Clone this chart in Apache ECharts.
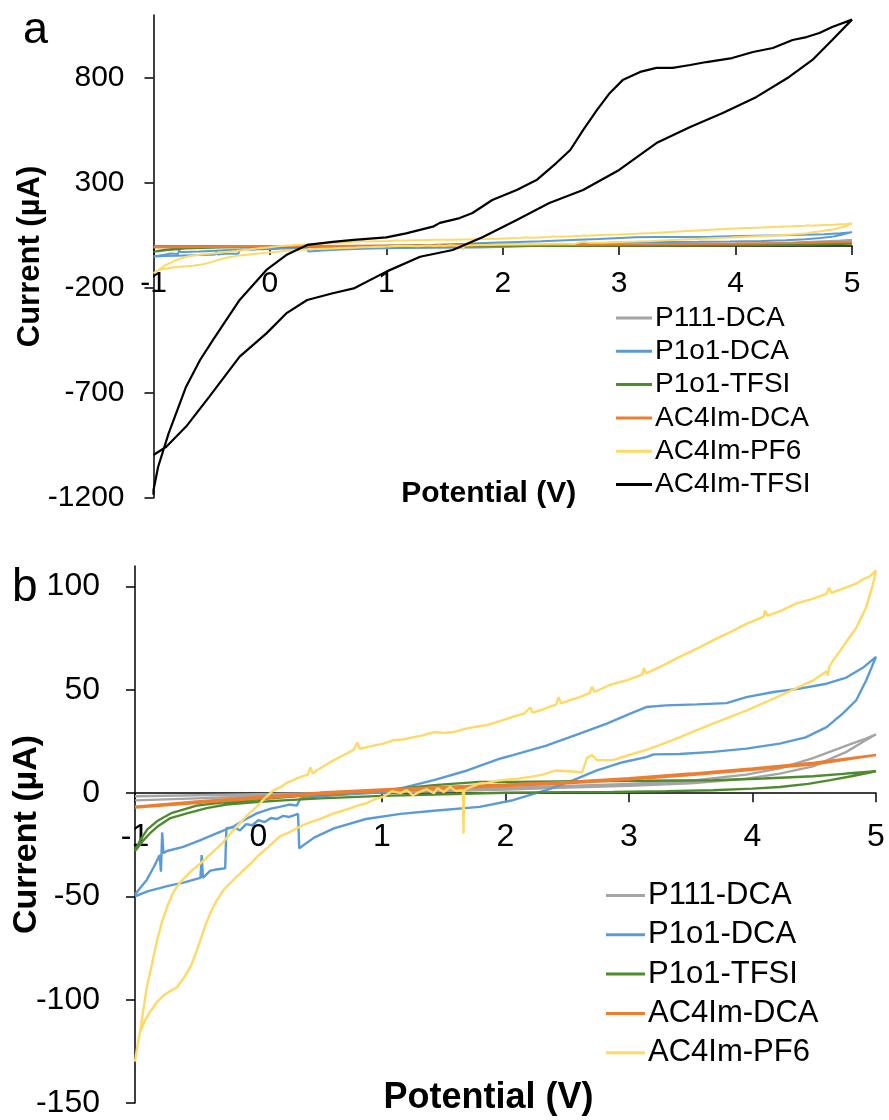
<!DOCTYPE html>
<html>
<head>
<meta charset="utf-8">
<script src="https://cdn.jsdelivr.net/npm/echarts@6/dist/echarts.min.js"></script>
<style>
  html, body { margin: 0; padding: 0; background: #ffffff; }
  #chart { width: 889px; height: 1120px; }
</style>
</head>
<body>
<div id="chart"></div>
<script>
// Cyclic voltammograms: potential (V) vs current (µA), each loop as [x, y] pairs in scan order.
const seriesNames = ['P111-DCA', 'P1o1-DCA', 'P1o1-TFSI', 'AC4Im-DCA', 'AC4Im-PF6', 'AC4Im-TFSI'];
const seriesColors = ['#A5A5A5', '#5B9BD5', '#4E8A2E', '#ED7D31', '#FFD966', '#000000'];

const xTicks = [-1, 0, 1, 2, 3, 4, 5];
const yTicksA = [-1200, -700, -200, 300, 800];
const yTicksB = [-150, -100, -50, 0, 50, 100];

const p111DCA = [
  [-1, -3.5], [-0.5, -2.5], [0, -1.5], [0.5, -0.5], [1, 0.3], [1.5, 1], [2, 1.8], [2.5, 2.7],
  [3, 3.6], [3.5, 4.8], [3.95, 7], [4.22, 9.5], [4.49, 13], [4.76, 20], [4.9, 25], [5, 28.5],
  [4.9, 26], [4.76, 23], [4.49, 17], [4.22, 12], [3.95, 9], [3.5, 6], [3, 4.5], [2.5, 3.5],
  [2, 2.5], [1.5, 1.5], [1, 0.8], [0.5, 0], [0, -0.5], [-0.5, -1], [-1, -1.5]
];

const p1o1DCA = [
  [-1, -50], [-0.9, -47.5], [-0.8, -46], [-0.74, -45], [-0.6, -43.2], [-0.5, -41.5], [-0.47, -41],
  [-0.46, -30], [-0.45, -41], [-0.39, -37.5], [-0.33, -36.8], [-0.27, -36.4], [-0.26, -17],
  [-0.2, -16.5], [-0.15, -18], [-0.1, -15], [-0.05, -15.5], [0, -13], [0.05, -14], [0.1, -12],
  [0.15, -12.5], [0.2, -11], [0.25, -11.5], [0.32, -10], [0.33, -26.7], [0.45, -21.5],
  [0.61, -17], [0.87, -12.5], [1.15, -10], [1.42, -8.5], [1.79, -6.6], [2.06, -3.4],
  [2.33, 1.5], [2.55, 6.3], [2.74, 11], [2.95, 15], [3.14, 17.5], [3.2, 18.8], [3.41, 19],
  [3.68, 20], [3.95, 21.6], [4.22, 24], [4.43, 27], [4.6, 32], [4.73, 38.5], [4.84, 45],
  [4.92, 54.6], [5, 66],
  [4.9, 61], [4.76, 56], [4.6, 53], [4.38, 50.6], [4.17, 49], [3.95, 46.5], [3.79, 43.6],
  [3.55, 43], [3.3, 42.5], [3.14, 41.7], [3.01, 38.5], [2.82, 33.7], [2.6, 28.8], [2.33, 23],
  [2.06, 18.4], [1.96, 16.8], [1.69, 11], [1.42, 6.3], [1.15, 2.3], [1.01, 0.6], [0.8, -0.3],
  [0.6, -1], [0.45, -1.8], [0.34, -2.5], [0.31, -6], [0.25, -5.5], [0.17, -6.6], [0.1, -7.5],
  [-0.015, -9.8], [-0.1, -12.5], [-0.2, -16], [-0.34, -19.5], [-0.47, -22.7], [-0.61, -26],
  [-0.74, -28], [-0.77, -29], [-0.78, -19], [-0.79, -38], [-0.8, -30], [-0.85, -36],
  [-0.905, -42], [-0.96, -46], [-1, -49]
];

const p1o1TFSI = [
  [-1, -28], [-0.96, -25], [-0.93, -22.7], [-0.88, -19.5], [-0.82, -16.3], [-0.72, -12.2],
  [-0.58, -9.8], [-0.42, -7.2], [-0.26, -5.5], [-0.07, -4.5], [0.2, -3.5], [0.5, -2.5],
  [1, -1.3], [1.5, -0.5], [2, 0.2], [2.5, 0.5], [2.87, 0.6], [3.3, 1], [3.68, 1.4], [4, 2.2],
  [4.22, 3], [4.45, 4.5], [4.63, 6.3], [4.8, 8.2], [5, 10.6],
  [4.76, 9.5], [4.49, 8.2], [4.09, 7.1], [3.68, 6.3], [3.14, 6], [2.6, 5.8], [2.06, 5.5],
  [1.79, 5.5], [1.42, 3.9], [1.2, 2.6], [1.01, 1.4], [0.7, 0], [0.4, -1], [0, -3],
  [-0.3, -4.5], [-0.5, -6], [-0.7, -9.5], [-0.82, -13.5], [-0.9, -17.5], [-0.96, -23], [-1, -28]
];

const ac4imDCA = [
  [-1, -6.5], [-0.5, -4], [0, -1.8], [0.5, 0.3], [1, 1.8], [1.5, 3], [2, 4.2], [2.5, 5.5],
  [3, 7.3], [3.5, 9.5], [4, 12], [4.5, 14.8], [5, 18.5],
  [4.5, 14], [4, 11.3], [3.5, 8.8], [3, 6.6], [2.5, 4.8], [2, 3.4], [1.5, 2.2], [1, 1],
  [0.5, -0.5], [0, -2.6], [-0.5, -4.8], [-1, -7]
];

const ac4imPF6 = [
  [-1, -130], [-0.98, -122], [-0.96, -116], [-0.93, -104], [-0.905, -94], [-0.86, -82],
  [-0.82, -71], [-0.78, -62], [-0.74, -55], [-0.69, -48], [-0.64, -43.5], [-0.55, -38],
  [-0.47, -34], [-0.38, -29], [-0.29, -24], [-0.22, -19], [-0.15, -14.5], [-0.08, -10],
  [-0.015, -6.6], [0.05, -2.5], [0.12, 1.4], [0.18, 3], [0.23, 5], [0.34, 7.9], [0.4, 9],
  [0.42, 12.5], [0.44, 9.5], [0.47, 11], [0.54, 13.5], [0.61, 16], [0.69, 18.5], [0.77, 21],
  [0.8, 24.5], [0.82, 21.5], [0.93, 23], [1.01, 24], [1.09, 25.6], [1.17, 26], [1.25, 27],
  [1.33, 28], [1.42, 29.6], [1.5, 29.2], [1.58, 29.6], [1.66, 31], [1.74, 32], [1.85, 33],
  [1.96, 35], [2.06, 37], [2.15, 38.5], [2.2, 41.5], [2.22, 39], [2.3, 40.5], [2.41, 43],
  [2.43, 46.5], [2.45, 43.5], [2.52, 45], [2.6, 46.5], [2.68, 48.5], [2.7, 51.5], [2.72, 49],
  [2.85, 52.5], [3.0, 55], [3.11, 57.5], [3.12, 60.5], [3.14, 58], [3.28, 62], [3.41, 66],
  [3.55, 70], [3.68, 74], [3.82, 78], [3.95, 82], [4.09, 85.5], [4.1, 88.5], [4.12, 86],
  [4.22, 88], [4.36, 92], [4.48, 94], [4.6, 96.5], [4.62, 99.5], [4.64, 97], [4.76, 99.7],
  [4.84, 101.5], [4.9, 103.7], [4.95, 105], [5, 107.7],
  [4.97, 100], [4.92, 90], [4.88, 85], [4.84, 80], [4.78, 75], [4.73, 70.7], [4.65, 64],
  [4.62, 61], [4.61, 57], [4.6, 59], [4.49, 54.6], [4.36, 51], [4.25, 48], [4.14, 45],
  [3.95, 40], [3.82, 37], [3.68, 33.7], [3.55, 30.5], [3.41, 27], [3.28, 24], [3.14, 21],
  [3.0, 18.5], [2.87, 16], [2.74, 16], [2.7, 18.5], [2.66, 17], [2.62, 10], [2.55, 10.5],
  [2.41, 11], [2.3, 9], [2.2, 7.9], [2.1, 7], [1.96, 6.3], [1.85, 5], [1.79, 4.7], [1.7, 2.5],
  [1.665, 1.4], [1.66, -19.5], [1.655, 1.4], [1.6, 1], [1.55, 3], [1.5, 0.5], [1.45, 2.5],
  [1.42, 0], [1.36, 2], [1.3, 0.5], [1.25, -1], [1.2, 1.5], [1.15, 0], [1.08, 1], [1.01, -1.8],
  [0.94, -3], [0.87, -5], [0.8, -6], [0.74, -7.4], [0.68, -8.5], [0.61, -9.8], [0.54, -11.5],
  [0.47, -13], [0.4, -14.5], [0.34, -16], [0.28, -18], [0.23, -19.5], [0.17, -21], [0.08, -26],
  [-0.015, -31], [-0.08, -35], [-0.15, -39], [-0.22, -43], [-0.285, -47], [-0.34, -52],
  [-0.39, -58], [-0.43, -64], [-0.47, -71], [-0.51, -78], [-0.55, -84], [-0.6, -89],
  [-0.66, -94], [-0.72, -96], [-0.77, -98], [-0.82, -101], [-0.88, -106], [-0.92, -110],
  [-0.96, -116], [-0.98, -122], [-1, -130]
];

const ac4imTFSI = [
  [-1, -1185], [-1, -1162], [-0.96, -1051], [-0.87, -892], [-0.72, -670], [-0.6, -543],
  [-0.49, -448], [-0.26, -257], [-0.03, -114], [0.14, -43], [0.32, 5], [0.54, 20], [0.72, 29],
  [1.0, 41], [1.17, 60], [1.4, 92], [1.46, 110], [1.63, 133], [1.74, 157], [1.91, 219],
  [2.12, 267], [2.29, 314], [2.46, 395], [2.58, 457], [2.69, 552], [2.81, 648], [2.92, 729],
  [3.03, 790], [3.18, 829], [3.32, 848], [3.46, 848], [3.61, 862], [3.75, 876], [3.97, 895],
  [4.15, 924], [4.32, 943], [4.49, 981], [4.61, 995], [4.72, 1014], [4.83, 1043], [5.0, 1078],
  [4.83, 981], [4.66, 886], [4.46, 805], [4.18, 710], [3.89, 633], [3.61, 567], [3.32, 490],
  [3.0, 362], [2.69, 267], [2.4, 205], [2.12, 124], [1.83, 43], [1.63, -5], [1.57, -19],
  [1.29, -51], [1.0, -122], [0.72, -202], [0.54, -225], [0.32, -257], [0.14, -321],
  [-0.03, -416], [-0.26, -527], [-0.52, -717], [-0.72, -860], [-0.89, -956], [-1.0, -995]
];

const seriesData = [p111DCA, p1o1DCA, p1o1TFSI, ac4imDCA, ac4imPF6, ac4imTFSI];

const FONT = '"Liberation Sans", Arial, Helvetica, sans-serif';

// grid boxes (px) of the two panels
const gridA = { left: 153.5, right: 37, top: 15, bottom: 622 };
const gridB = { left: 135, right: 13, top: 566, bottom: 17 };
const yRangeA = [-1200, 1100];
const yRangeB = [-150, 110];

// the potential axis sits on the zero-current line; shift it there from the grid bottom
function zeroOffset(grid, range) {
  const h = 1120 - grid.top - grid.bottom;
  return -h * (0 - range[0]) / (range[1] - range[0]);
}

function axisBase(fontSize) {
  return {
    axisLine: { onZero: false, lineStyle: { color: '#000', width: 1.5 } },
    axisTick: { show: true, length: 9, lineStyle: { color: '#000', width: 1.5 } },
    splitLine: { show: false },
    axisLabel: { color: '#000', fontSize: fontSize, fontFamily: FONT, formatter: v => String(v) },
    nameMoveOverlap: false
  };
}

// panel a: all six liquids; panel b: the five without AC4Im-TFSI
const series = [];
seriesNames.forEach((name, i) => {
  series.push({
    name: name, type: 'line', xAxisIndex: 0, yAxisIndex: 0, data: seriesData[i],
    showSymbol: false, symbol: 'none', animation: false,
    lineStyle: { color: seriesColors[i], width: i === 5 ? 2.2 : 2 }, itemStyle: { color: seriesColors[i] }
  });
});
seriesNames.slice(0, 5).forEach((name, i) => {
  series.push({
    name: name, type: 'line', xAxisIndex: 1, yAxisIndex: 1, data: seriesData[i],
    showSymbol: false, symbol: 'none', animation: false,
    lineStyle: { color: seriesColors[i], width: 2.4 }, itemStyle: { color: seriesColors[i] }
  });
});

const xA = axisBase(30), xB = axisBase(32), yA = axisBase(30), yB = axisBase(32);

const option = {
  backgroundColor: '#ffffff',
  animation: false,
  textStyle: { fontFamily: FONT },
  grid: [
    Object.assign({ outerBoundsMode: 'none', containLabel: false }, gridA),
    Object.assign({ outerBoundsMode: 'none', containLabel: false }, gridB)
  ],
  xAxis: [
    Object.assign({}, xA, {
      type: 'value', gridIndex: 0, min: xTicks[0], max: xTicks[xTicks.length - 1], interval: 1,
      offset: zeroOffset(gridA, yRangeA),
      axisLabel: Object.assign({}, xA.axisLabel, { margin: 23 }),
      name: 'Potential (V)', nameLocation: 'middle', nameGap: 233,
      nameTextStyle: { color: '#000', fontSize: 30, fontWeight: 'bold', fontFamily: FONT, padding: [0, 28, 0, 0] }
    }),
    Object.assign({}, xB, {
      type: 'value', gridIndex: 1, min: xTicks[0], max: xTicks[xTicks.length - 1], interval: 1,
      offset: zeroOffset(gridB, yRangeB),
      axisLabel: Object.assign({}, xB.axisLabel, { margin: 28 }),
      name: 'Potential (V)', nameLocation: 'middle', nameGap: 287,
      nameTextStyle: { color: '#000', fontSize: 36, fontWeight: 'bold', fontFamily: FONT, padding: [0, 34, 0, 0] }
    })
  ],
  yAxis: [
    Object.assign({}, yA, {
      type: 'value', gridIndex: 0, min: yRangeA[0], max: yRangeA[1],
      axisTick: Object.assign({}, yA.axisTick, { customValues: yTicksA }),
      axisLabel: Object.assign({}, yA.axisLabel, { customValues: yTicksA, margin: 29 }),
      name: 'Current (µA)', nameLocation: 'middle', nameRotate: 90, nameGap: 108,
      nameTextStyle: { color: '#000', fontSize: 31, fontWeight: 'bold', fontFamily: FONT }
    }),
    Object.assign({}, yB, {
      type: 'value', gridIndex: 1, min: yRangeB[0], max: yRangeB[1],
      axisTick: Object.assign({}, yB.axisTick, { customValues: yTicksB }),
      axisLabel: Object.assign({}, yB.axisLabel, { customValues: yTicksB, margin: 35 }),
      name: 'Current (µA)', nameLocation: 'middle', nameRotate: 90, nameGap: 91,
      nameTextStyle: { color: '#000', fontSize: 34, fontWeight: 'bold', fontFamily: FONT }
    })
  ],
  legend: [
    {
      data: seriesNames, orient: 'vertical', left: 616, top: 303, padding: 0,
      icon: 'rect', itemWidth: 36, itemHeight: 3, itemGap: 3.3, selectedMode: false,
      textStyle: { color: '#000', fontSize: 28, lineHeight: 30, fontFamily: FONT, padding: [0, 0, 0, -2] }
    },
    {
      data: seriesNames.slice(0, 5), orient: 'vertical', left: 606, top: 879, padding: 0,
      icon: 'rect', itemWidth: 39, itemHeight: 3, itemGap: 6.3, selectedMode: false,
      textStyle: { color: '#000', fontSize: 31, lineHeight: 33, fontFamily: FONT, padding: [0, 0, 0, -2] }
    }
  ],
  graphic: [
    { type: 'text', left: 23, top: 8, style: { text: 'a', font: '45px ' + FONT, fill: '#000' } },
    { type: 'text', left: 12, top: 565, style: { text: 'b', font: '46px ' + FONT, fill: '#000' } }
  ],
  series: series
};

const chart = echarts.init(document.getElementById('chart'), null, { renderer: 'canvas' });
chart.setOption(option);
</script>
</body>
</html>
